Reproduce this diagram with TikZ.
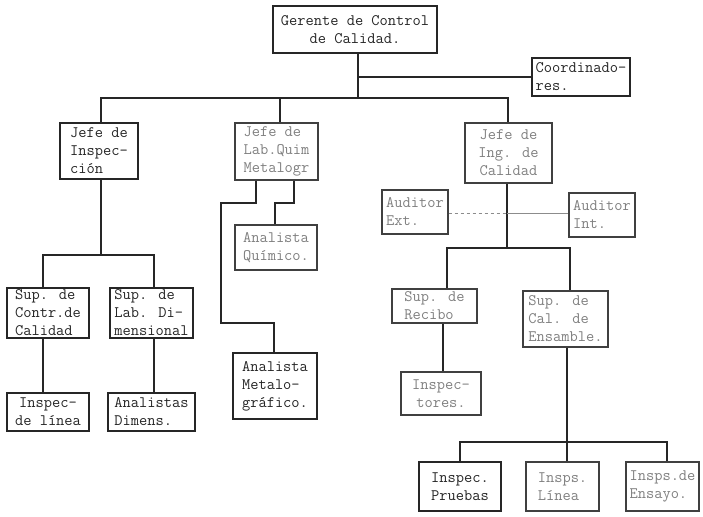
\documentclass[tikz,border=0pt]{standalone}
\usepackage{fontspec}
% \orgbox{name}{x1}{y1}{x2}{y2}{text}{extra style}
\newcommand\orgbox[7]{%
  \node[box,#7,minimum width={(#4-#2)*1pt},minimum height={(#5-#3)*1pt}]
    (#1) at ({(#2+#4)/2},{(#3+#5)/2}) {#6};}
\begin{document}
\begin{tikzpicture}[x=1pt,y=-1pt,
  box/.style={draw=black!85, line width=1.3pt, inner sep=0pt, align=left,
    font=\ttfamily\fontsize{16}{18}\selectfont, text=black!85},
  faint/.style={text=black!50, draw=black!75},
  link/.style={line width=1.2pt, draw=black!85},
  thin link/.style={line width=0.8pt, draw=black!45}]
\useasboundingbox[fill=white] (0,0) rectangle (703,516);

% boxes
\orgbox{ger}{273}{6}{437}{53}{Gerente de Control\\de Calidad.}{align=center}
\orgbox{coord}{532}{58}{630}{96}{Coordinado-\\res.}{}
\orgbox{jinsp}{60}{123}{138}{179}{Jefe de\\Inspec-\\ción}{}
\orgbox{jlab}{235}{123}{318}{180}{Jefe de\\Lab.Quim\\Metalogr}{faint}
\orgbox{jing}{465}{123}{552}{183}{Jefe de\\Ing. de\\Calidad}{faint,align=center}
\orgbox{audext}{382}{190}{448}{234}{Auditor\\Ext.}{faint}
\orgbox{audint}{569}{193}{635}{237}{Auditor\\Int.}{faint}
\orgbox{anaq}{235}{225}{317}{270}{Analista\\Químico.}{faint}
\orgbox{anam}{233}{353}{317}{419}{Analista\\Metalo-\\gráfico.}{}
\orgbox{supc}{7}{288}{89}{338}{Sup. de\\Contr.de\\Calidad}{}
\orgbox{supl}{110}{288}{193}{338}{Sup. de\\Lab. Di-\\mensional}{}
\orgbox{insl}{7}{393}{89}{431}{Inspec-\\de línea}{align=center}
\orgbox{anad}{108}{393}{195}{431}{Analistas\\Dimens.}{}
\orgbox{supr}{392}{289}{477}{323}{Sup. de\\Recibo}{faint}
\orgbox{insp}{401}{372}{481}{415}{Inspec-\\tores.}{faint,align=center}
\orgbox{supe}{523}{291}{608}{347}{Sup. de\\Cal. de\\Ensamble.}{faint}
\orgbox{ipr}{419}{462}{501}{511}{Inspec.\\Pruebas}{}
\orgbox{ili}{526}{462}{599}{511}{Insps.\\Línea}{faint}
\orgbox{ien}{626}{462}{699}{511}{Insps.de\\Ensayo.}{faint}

% junction points
\coordinate (g)  at (358,98);
\coordinate (tl) at (101,98);
\coordinate (tm) at (280,98);
\coordinate (tr) at (508,98);
\coordinate (ia) at (101,255);
\coordinate (il) at (43,255);
\coordinate (ir) at (154,255);
\coordinate (qa) at (294,203);
\coordinate (qb) at (275,203);
\coordinate (ma) at (256,203);
\coordinate (mb) at (221,203);
\coordinate (mc) at (221,323);
\coordinate (md) at (274,323);
\coordinate (ea) at (507,248);
\coordinate (el) at (447,248);
\coordinate (er) at (570,248);
\coordinate (ax) at (507,213);
\coordinate (rx) at (443,330);
\coordinate (sa) at (567,442);
\coordinate (sl) at (460,442);
\coordinate (sr) at (667,442);

% top level
\draw[link] (ger.south -| g) -- (g);
\draw[link] (g |- coord.west) -- (coord.west);
\draw[link] (jinsp.north -| tl) -- (tl) -- (tr) -- (jing.north -| tr);
\draw[link] (tm) -- (jlab.north -| tm);

% inspection branch
\draw[link] (jinsp.south -| ia) -- (ia);
\draw[link] (supc.north -| il) -- (il) -- (ir) -- (supl.north -| ir);
\draw[link] (supc.south -| il) -- (insl.north -| il);
\draw[link] (supl.south -| ir) -- (anad.north -| ir);

% laboratory branch
\draw[link] (jlab.south -| qa) -- (qa) -- (qb) -- (anaq.north -| qb);
\draw[link] (jlab.south -| ma) -- (ma) -- (mb) -- (mc) -- (md) -- (anam.north -| md);

% quality engineering branch
\draw[link] (jing.south -| ea) -- (ea);
\draw[thin link, dashed] (audext.east |- ax) -- (ax);
\draw[thin link] (ax) -- (audint.west |- ax);
\draw[link] (supr.north -| el) -- (el) -- (er) -- (supe.north -| er);
\draw[link] (supr.south -| rx) -- (insp.north -| rx);
\draw[link] (supe.south -| sa) -- (sa);
\draw[link] (ipr.north -| sl) -- (sl) -- (sr) -- (ien.north -| sr);
\draw[link] (sa) -- (ili.north -| sa);
\end{tikzpicture}
\end{document}
